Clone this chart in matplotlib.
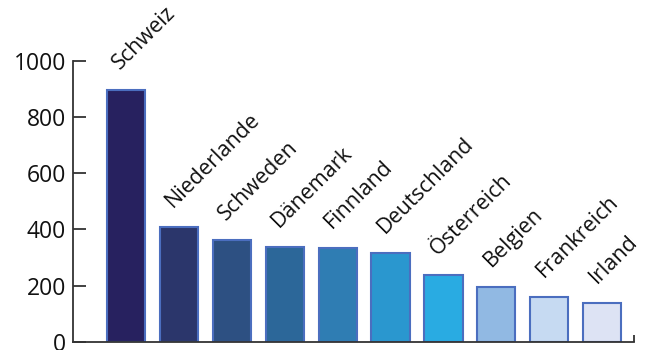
import matplotlib
matplotlib.use("Agg")
import matplotlib.pyplot as plt

countries = ["Schweiz", "Niederlande", "Schweden", "Dänemark", "Finnland",
             "Deutschland", "Österreich", "Belgien", "Frankreich", "Irland"]
values = [896, 408, 361, 337, 333, 315, 238, 197, 160, 138]
bar_colors = ["#27215f", "#2b366b", "#2d5082", "#2c6799", "#2f7db3",
              "#2a97cf", "#29abe2", "#91b9e3", "#c6daf2", "#dde3f4"]
yticks = [0, 200, 400, 600, 800, 1000]

plt.rcParams['font.family'] = ['Open Sans', 'DejaVu Sans']

fig = plt.figure(figsize=(6.58, 3.5), dpi=100)
ax = fig.add_axes([73/658, 8/350, (634-73)/658, (342-60.5)/350])

x = list(range(len(countries)))
ax.bar(x, values, width=0.72, color=bar_colors, edgecolor="#4b6ebf", linewidth=1.5, zorder=2)

for xi, v, name in zip(x, values, countries):
    ax.annotate(name, (xi, v), xytext=(-4, 14), textcoords="offset points",
                rotation=45, rotation_mode="anchor", ha="left", va="baseline",
                fontsize=15.5, color="#111111")

ax.set_xlim(-1.0, 9.6)
ax.set_ylim(0, 1000)
ax.set_yticks(yticks)
ax.set_yticklabels([str(t) for t in yticks], fontsize=16.5, color="#111111")
ax.set_xticks([9.6])
ax.set_xticklabels([""])
ax.tick_params(axis="x", direction="in", length=5, width=1.3, color="#333333")
ax.tick_params(axis="y", direction="in", length=9, width=1.3, color="#333333", pad=5)

for s in ["top", "right"]:
    ax.spines[s].set_visible(False)
for s in ["left", "bottom"]:
    ax.spines[s].set_color("#333333")
    ax.spines[s].set_linewidth(1.3)
ax.spines["bottom"].set_zorder(3)

fig.savefig("out.png", dpi=100)
